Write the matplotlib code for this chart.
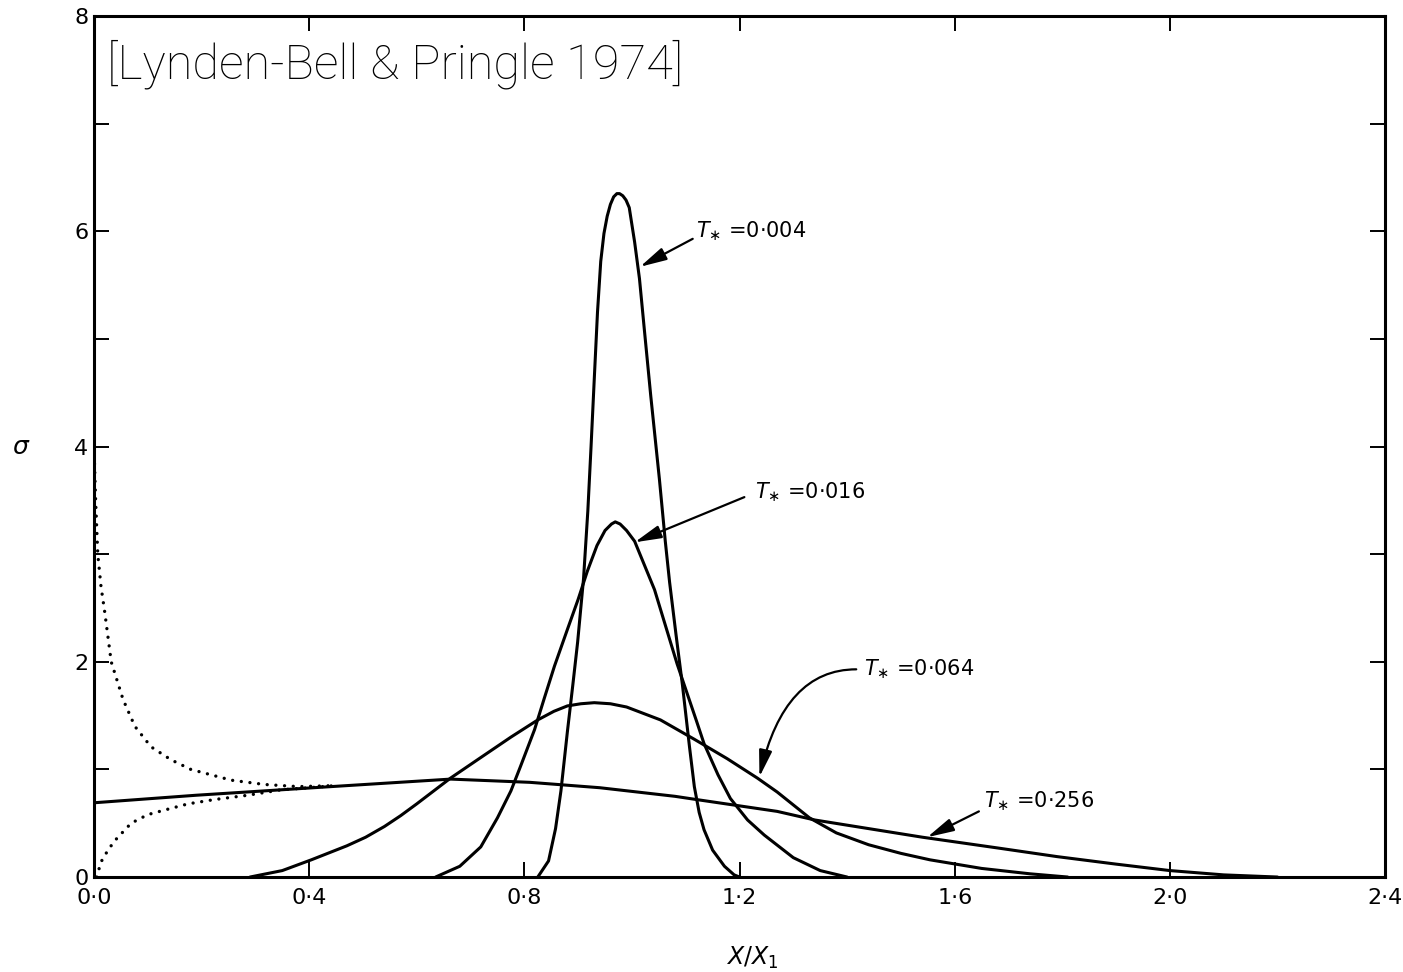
import matplotlib
matplotlib.use("Agg")
import matplotlib.pyplot as plt

# ring spreading curves (x = X/X1, y = sigma)
x_004 = [0.825, 0.845, 0.858, 0.868, 0.880, 0.890, 0.899, 0.910, 0.918, 0.924, 0.930, 0.936,
         0.942, 0.948, 0.954, 0.960, 0.966, 0.972, 0.977, 0.983, 0.989, 0.995, 1.005, 1.014,
         1.023, 1.035, 1.051, 1.062, 1.070, 1.082, 1.094, 1.107, 1.116, 1.125, 1.134, 1.150,
         1.172, 1.190, 1.200]
y_004 = [0.0, 0.15, 0.45, 0.80, 1.35, 1.78, 2.18, 2.77, 3.40, 4.00, 4.63, 5.25,
         5.72, 5.98, 6.14, 6.25, 6.32, 6.35, 6.35, 6.33, 6.29, 6.22, 5.90, 5.56,
         5.09, 4.47, 3.70, 3.12, 2.74, 2.25, 1.78, 1.21, 0.84, 0.60, 0.44, 0.25,
         0.10, 0.02, 0.0]

x_016 = [0.635, 0.680, 0.719, 0.750, 0.775, 0.793, 0.819, 0.837, 0.856, 0.880, 0.900, 0.917,
         0.935, 0.950, 0.962, 0.969, 0.978, 0.990, 1.005, 1.042, 1.084, 1.120, 1.134, 1.160,
         1.183, 1.215, 1.246, 1.300, 1.350, 1.400]
y_016 = [0.0, 0.10, 0.28, 0.55, 0.80, 1.03, 1.37, 1.66, 1.96, 2.30, 2.58, 2.84,
         3.08, 3.22, 3.28, 3.30, 3.28, 3.22, 3.12, 2.67, 1.98, 1.45, 1.24, 0.95,
         0.73, 0.53, 0.39, 0.18, 0.06, 0.0]

x_064 = [0.290, 0.350, 0.404, 0.470, 0.505, 0.540, 0.570, 0.600, 0.663, 0.713, 0.775, 0.825,
         0.855, 0.880, 0.905, 0.930, 0.960, 0.990, 1.053, 1.116, 1.177, 1.233, 1.270, 1.330,
         1.380, 1.440, 1.500, 1.554, 1.650, 1.740, 1.810]
y_064 = [0.0, 0.06, 0.16, 0.29, 0.37, 0.47, 0.57, 0.68, 0.92, 1.09, 1.30, 1.46,
         1.54, 1.59, 1.61, 1.62, 1.61, 1.58, 1.46, 1.28, 1.10, 0.92, 0.79, 0.55,
         0.41, 0.30, 0.22, 0.16, 0.08, 0.03, 0.0]

x_256 = [0.0, 0.19, 0.44, 0.663, 0.81, 0.94, 1.08, 1.12, 1.27, 1.34, 1.54, 1.68,
         1.79, 1.90, 2.00, 2.10, 2.20]
y_256 = [0.69, 0.76, 0.84, 0.91, 0.88, 0.83, 0.75, 0.72, 0.61, 0.53, 0.37, 0.27,
         0.19, 0.12, 0.06, 0.02, 0.0]

# dotted asymptotic curves near the origin
x_dot_hi = [0.0, 0.003, 0.007, 0.013, 0.020, 0.032, 0.054, 0.076, 0.106, 0.143, 0.180,
            0.225, 0.255, 0.317, 0.380, 0.450]
y_dot_hi = [4.0, 3.5, 3.0, 2.7, 2.46, 2.0, 1.65, 1.40, 1.21, 1.09, 1.0,
            0.94, 0.90, 0.86, 0.84, 0.85]
x_dot_lo = [0.005, 0.013, 0.026, 0.039, 0.069, 0.100, 0.137, 0.175, 0.224, 0.286, 0.347,
            0.400, 0.450]
y_dot_lo = [0.0, 0.14, 0.25, 0.34, 0.50, 0.58, 0.63, 0.68, 0.72, 0.76, 0.81,
            0.83, 0.85]

xticks = [0.0, 0.4, 0.8, 1.2, 1.6, 2.0, 2.4]
xticklabels = ["0·0", "0·4", "0·8", "1·2", "1·6", "2·0", "2·4"]
yticks = [0, 1, 2, 3, 4, 5, 6, 7, 8]
yticklabels = ["0", "", "2", "", "4", "", "6", "", "8"]

labels = ["0·004", "0·016", "0·064", "0·256"]
label_pos = [(1.12, 6.0), (1.228, 3.58), (1.432, 1.93), (1.655, 0.70)]
arrow_tail = [(1.113, 5.93), (1.209, 3.53), (1.417, 1.93), (1.645, 0.61)]
arrow_tip = [(1.015, 5.67), (1.005, 3.11), (1.237, 0.93), (1.549, 0.37)]
arrow_conn = ["arc3,rad=0", "arc3,rad=0", "angle3,angleA=0,angleB=77", "arc3,rad=0"]

plt.rcParams["mathtext.fontset"] = "dejavusans"

fig = plt.figure(figsize=(14.03, 9.72), dpi=100)
ax = fig.add_axes([0.0670, 0.0977, 0.9202, 0.8858])

lw = 2.2
for xs, ys in [(x_004, y_004), (x_016, y_016), (x_064, y_064), (x_256, y_256)]:
    ax.plot(xs, ys, color="black", lw=lw, solid_joinstyle="round", solid_capstyle="round")
for xs, ys in [(x_dot_hi, y_dot_hi), (x_dot_lo, y_dot_lo)]:
    ax.plot(xs, ys, color="black", lw=2.4, linestyle=(0, (0.01, 2.6)), dash_capstyle="round")

for lab, pos, tail, tip, conn in zip(labels, label_pos, arrow_tail, arrow_tip, arrow_conn):
    ax.text(pos[0], pos[1], r"$T_{\ast}$ =" + lab, fontsize=15, ha="left", va="center")
    ax.annotate("", xy=tip, xytext=tail,
                arrowprops=dict(arrowstyle="-|>,head_length=0.9,head_width=0.22",
                                color="black", lw=1.6, mutation_scale=18,
                                connectionstyle=conn, shrinkA=0, shrinkB=0))

ax.set_xlim(0, 2.4)
ax.set_ylim(0, 8)
ax.set_xticks(xticks)
ax.set_xticklabels(xticklabels)
ax.set_yticks(yticks)
ax.set_yticklabels(yticklabels)
ax.tick_params(direction="in", length=11, width=1.4, labelsize=16, top=True, right=True)
ax.tick_params(axis="x", pad=8)
ax.tick_params(axis="y", pad=4)
for sp in ax.spines.values():
    sp.set_linewidth(2.2)

ax.set_xlabel(r"$X/X_1$", fontsize=17)
ax.xaxis.set_label_coords(0.51, -0.079)
ax.set_ylabel(r"$\sigma$", fontsize=18, rotation=0, va="center")
ax.yaxis.set_label_coords(-0.056, 0.5)

ax.text(0.025, 7.42, "[Lynden-Bell & Pringle 1974]", fontsize=35,
        family=["Roboto", "DejaVu Sans"], fontweight="light", color="black",
        ha="left", va="baseline")

fig.savefig("out.png", dpi=100)
